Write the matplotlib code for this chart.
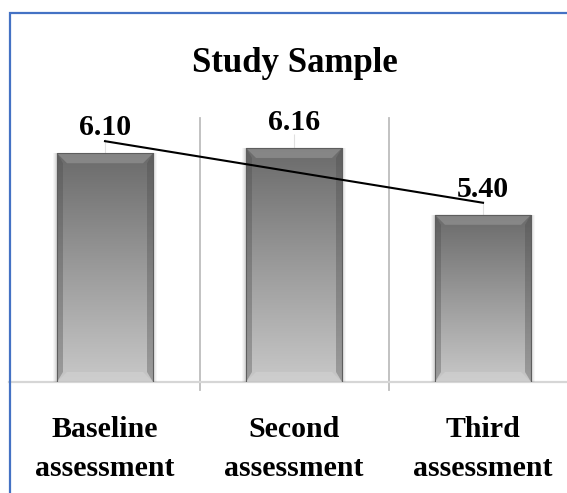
import numpy as np
import matplotlib
matplotlib.use("Agg")
import matplotlib.pyplot as plt
from matplotlib.patches import Rectangle, Polygon
from matplotlib.colors import LinearSegmentedColormap

# =========================
# Data
# =========================
categories = ["Baseline\nassessment", "Second\nassessment", "Third\nassessment"]
values = [6.10, 6.16, 5.40]
value_labels = ["6.10", "6.16", "5.40"]
title = "Study Sample"

W, H = 567, 493
plt.rcParams["font.family"] = ["Liberation Serif", "DejaVu Serif"]

fig = plt.figure(figsize=(W / 100, H / 100), dpi=100)
ax = fig.add_axes([10.5 / W, 1 - 382 / H, 567 / W, 264 / H])

xs = np.arange(1, len(values) + 1)
bar_w = 0.508
y_lo, y_hi = 3.5, 6.5
px_x = 3.0 / 567            # data units per pixel, x
px_y = (y_hi - y_lo) / 264  # data units per pixel, y

grad_cmap = LinearSegmentedColormap.from_list("bar", ["#6a6a6a", "#9a9a9a", "#c8c8c8"])
grad = np.linspace(0, 1, 256).reshape(-1, 1)

# -------------------------
# Gridlines / baseline
# -------------------------
for b in [1.5, 2.5]:
    ax.axvline(b, ymin=-8 / 264, ymax=1, color="#bdbdbd", lw=1.3, clip_on=False, zorder=1)
for x, v in zip(xs, values):
    ax.vlines(x, v, v + 14 * px_y, color="#e0e0e0", lw=0.8, zorder=0.5)
ax.axhline(y_lo, xmin=-2 / 567, xmax=1, color="#d6d6d6", lw=1.6, clip_on=False, zorder=1)

# -------------------------
# Bars with gradient + bevel
# -------------------------
for x, v in zip(xs, values):
    x0, x1 = x - bar_w / 2, x + bar_w / 2
    # soft shadow
    for k, a in [(4, 0.06), (3, 0.08), (2, 0.10), (1, 0.12)]:
        ax.add_patch(Rectangle((x0 - k * px_x, y_lo - k * px_y), bar_w + 2 * k * px_x,
                               v - y_lo + k * px_y, facecolor="#7a7a7a", edgecolor="none",
                               alpha=a, zorder=2))
    rect = Rectangle((x0, y_lo), bar_w, v - y_lo, facecolor="none", edgecolor="#5e5e5e",
                     lw=0.8, zorder=4)
    ax.add_patch(rect)
    im = ax.imshow(grad, cmap=grad_cmap, extent=(x0, x1, y_lo, v), origin="upper",
                   aspect="auto", zorder=3)
    im.set_clip_path(rect)

    dx, dy = 10 * px_x, 10 * px_y
    # top bevel (lighter)
    ax.add_patch(Polygon([(x0, v), (x1, v), (x1 - dx, v - dy), (x0 + dx, v - dy)],
                         facecolor="#a0a0a0", edgecolor="none", alpha=0.5, zorder=3.5))
    # side bevels (darker)
    ax.add_patch(Polygon([(x0, v), (x0 + dx * 0.6, v - dy), (x0 + dx * 0.6, y_lo + dy), (x0, y_lo)],
                         facecolor="#4a4a4a", edgecolor="none", alpha=0.35, zorder=3.5))
    ax.add_patch(Polygon([(x1, v), (x1 - dx * 0.6, v - dy), (x1 - dx * 0.6, y_lo + dy), (x1, y_lo)],
                         facecolor="#4a4a4a", edgecolor="none", alpha=0.35, zorder=3.5))
    # bottom bevel (lighter)
    ax.add_patch(Polygon([(x0, y_lo), (x1, y_lo), (x1 - dx, y_lo + dy), (x0 + dx, y_lo + dy)],
                         facecolor="#d4d4d4", edgecolor="none", alpha=0.5, zorder=3.5))

# -------------------------
# Linear trendline
# -------------------------
slope, intercept = np.polyfit(xs, values, 1)
ax.plot(xs, slope * xs + intercept, color="black", lw=1.5, zorder=6)

# -------------------------
# Labels
# -------------------------
for x, v, lab in zip(xs, values, value_labels):
    ax.annotate(lab, (x, v), xytext=(0, 13), textcoords="offset points",
                ha="center", va="baseline", fontsize=21.5, fontweight="bold", zorder=7)

for x, cat in zip(xs, categories):
    first, second = cat.split("\n")
    ax.annotate(first, (x, y_lo), xytext=(0, -55 * 0.72), textcoords="offset points",
                ha="center", va="baseline", fontsize=21.5, fontweight="bold",
                annotation_clip=False)
    ax.annotate(second, (x, y_lo), xytext=(0, -94 * 0.72), textcoords="offset points",
                ha="center", va="baseline", fontsize=21.5, fontweight="bold",
                annotation_clip=False)

fig.text(294.5 / W, 1 - 72 / H, title, ha="center", va="baseline",
         fontsize=25, fontweight="bold")

ax.set_xlim(0.5, 3.5)
ax.set_ylim(y_lo, y_hi)
ax.axis("off")

# blue outer frame (extends past the right/bottom edge)
fig.patches.append(Rectangle((10 / W, -0.2), 2.0, 1.2 - 13 / H, transform=fig.transFigure,
                             facecolor="none", edgecolor="#4472c4", lw=1.6))

fig.savefig("out.png", dpi=100)
